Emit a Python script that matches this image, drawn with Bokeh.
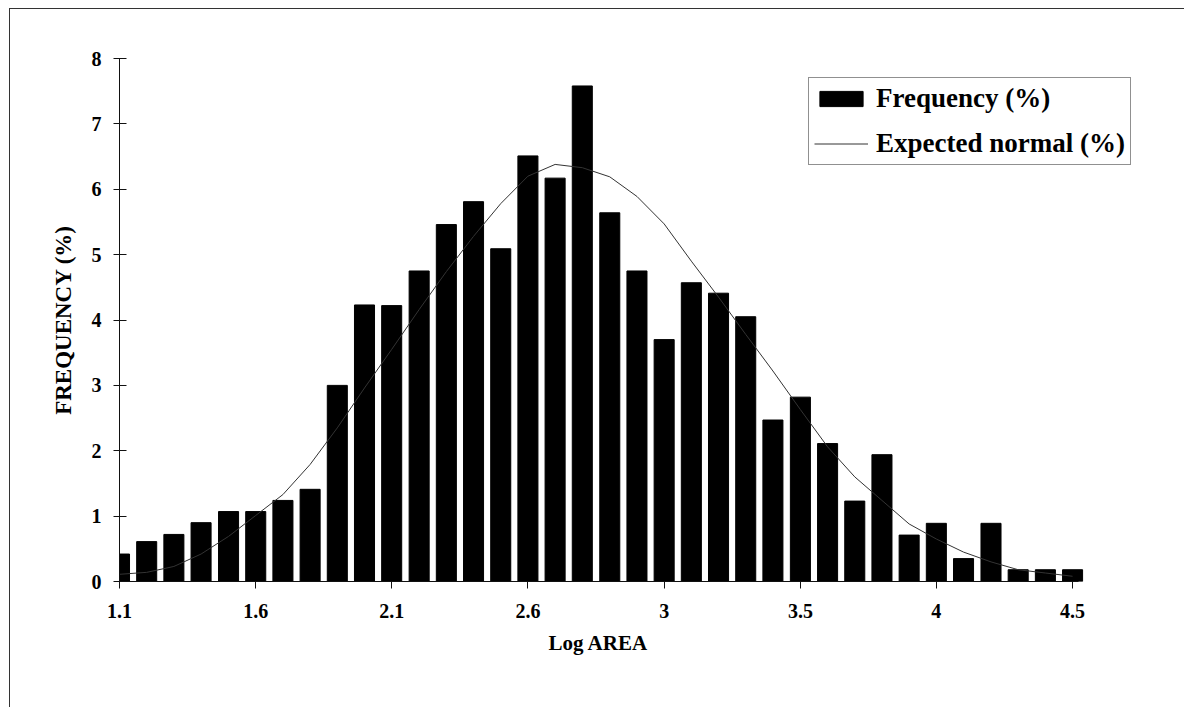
from bokeh.plotting import figure
from bokeh.models import Range1d, FixedTicker, Legend, LegendItem, Title
from bokeh.embed import file_html
from bokeh.resources import INLINE

# bin centres (Log AREA)
log_area = [1.1, 1.197, 1.294, 1.391, 1.489, 1.586, 1.683, 1.780, 1.877, 1.974,
            2.071, 2.169, 2.266, 2.363, 2.460, 2.557, 2.654, 2.751, 2.849, 2.946,
            3.043, 3.140, 3.237, 3.334, 3.431, 3.529, 3.626, 3.723, 3.820, 3.917,
            4.014, 4.111, 4.209, 4.306, 4.403, 4.5]

frequency = [0.42, 0.61, 0.72, 0.90, 1.07, 1.07, 1.24, 1.41, 3.00, 4.23,
             4.22, 4.75, 5.46, 5.81, 5.09, 6.51, 6.17, 7.58, 5.64, 4.75,
             3.70, 4.57, 4.41, 4.05, 2.47, 2.82, 2.11, 1.23, 1.94, 0.71,
             0.89, 0.35, 0.89, 0.18, 0.18, 0.18]

expected_normal = [0.11, 0.14, 0.23, 0.42, 0.69, 1.01, 1.33, 1.79, 2.35, 2.96,
                   3.55, 4.16, 4.74, 5.28, 5.78, 6.20, 6.38, 6.33, 6.19, 5.89,
                   5.47, 4.90, 4.35, 3.78, 3.22, 2.63, 2.06, 1.60, 1.24, 0.88,
                   0.65, 0.45, 0.30, 0.18, 0.13, 0.08]

x_tick_values = [1.1, 1.586, 2.071, 2.557, 3.043, 3.529, 4.014, 4.5]
x_tick_labels = ["1.1", "1.6", "2.1", "2.6", "3", "3.5", "4", "4.5"]
y_ticks = [0, 1, 2, 3, 4, 5, 6, 7, 8]

FONT = "Liberation Serif"

p = figure(width=1175, height=699, output_backend="svg", toolbar_location=None,
           x_range=Range1d(1.1, 4.778), y_range=Range1d(0, 8),
           min_border_left=109, min_border_right=35, min_border_top=49,
           min_border_bottom=127)
p.styles = {"margin-left": "9px", "margin-top": "8px",
            "border-left": "1px solid #333", "border-top": "1px solid #333"}

bars = p.vbar(x=log_area, top=frequency, width=0.0715, bottom=0,
              fill_color="black", line_color="black")
line = p.line(x=log_area, y=expected_normal, line_color="#333333", line_width=1)

p.outline_line_color = None
p.grid.grid_line_color = None
p.background_fill_color = "white"
p.border_fill_color = "white"

xa = p.xaxis[0]
xa.ticker = FixedTicker(ticks=x_tick_values)
xa.bounds = (1.1, 4.5196)
xa.major_label_overrides = {v: l for v, l in zip(x_tick_values, x_tick_labels)}
xa.major_tick_in = 0
xa.major_tick_out = 7
xa.minor_tick_line_color = None
xa.major_label_standoff = 15

ya = p.yaxis[0]
ya.ticker = FixedTicker(ticks=y_ticks)
ya.axis_label = "FREQUENCY (%)"
ya.major_tick_in = 7
ya.major_tick_out = 6
ya.minor_tick_line_color = None
ya.major_label_standoff = 12
ya.axis_label_standoff = 13

for ax in (xa, ya):
    ax.axis_line_color = "#111111"
    ax.major_tick_line_color = "#111111"
    ax.major_label_text_font = FONT
    ax.major_label_text_font_style = "bold"
    ax.major_label_text_font_size = "20px"
    ax.major_label_text_color = "black"
    ax.axis_label_text_font = FONT
    ax.axis_label_text_font_style = "bold"
    ax.axis_label_text_font_size = "23px"
    ax.axis_label_text_color = "black"

# x-axis title, centred under the axis line (not under the wider frame)
xtitle = Title(text="Log AREA", align="left", offset=429, standoff=17,
               text_font=FONT, text_font_style="bold", text_font_size="21px",
               text_color="black")
p.add_layout(xtitle, "below")

legend = Legend(items=[LegendItem(label="Frequency (%)", renderers=[bars]),
                       LegendItem(label="Expected normal (%)", renderers=[line])],
                location=(689, 416))
legend.label_text_font = FONT
legend.label_text_font_style = "bold"
legend.label_text_font_size = "27px"
legend.label_text_color = "black"
legend.glyph_width = 54
legend.glyph_height = 19
legend.label_standoff = 8
legend.label_height = 26
legend.padding = 5
legend.spacing = 14
legend.margin = 0
legend.border_line_color = "#222222"
legend.border_line_width = 1
legend.background_fill_alpha = 1
p.add_layout(legend, "center")

open("out.html", "w").write(file_html(p, INLINE))
